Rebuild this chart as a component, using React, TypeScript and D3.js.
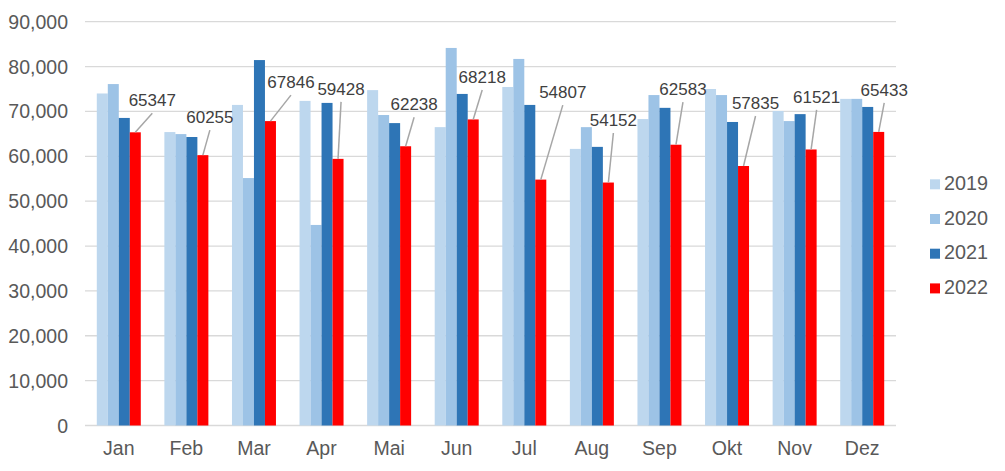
import React from "react";
import * as d3 from "d3";

const months = ["Jan", "Feb", "Mar", "Apr", "Mai", "Jun", "Jul", "Aug", "Sep", "Okt", "Nov", "Dez"];
const seriesNames = ["2019", "2020", "2021", "2022"];
const v2019 = [74000, 65400, 71450, 72350, 74750, 66500, 75450, 61650, 68300, 75000, 70100, 72800];
const v2020 = [76100, 64950, 55150, 44700, 69200, 84150, 81700, 66500, 73650, 73650, 67850, 72800];
const v2021 = [68550, 64300, 81450, 71900, 67400, 73900, 71450, 62100, 70800, 67650, 69400, 71000];
const v2022 = [65347, 60255, 67846, 59428, 62238, 68218, 54807, 54152, 62583, 57835, 61521, 65433];
const yTicks = [0, 10000, 20000, 30000, 40000, 50000, 60000, 70000, 80000, 90000];

// label placement (label centre relative to top of the 2022 bar), layout only
const labelOffsets: [number, number][] = [
  [17, -32], [7, -38], [20.5, -39], [3, -70], [8.5, -42], [9, -42.5],
  [22, -87.5], [5, -62.5], [7, -55.5], [12, -63], [5.5, -52.5], [5.5, -42],
];

const colors = ["#BDD7EE", "#9DC3E6", "#2E75B6", "#FF0000"];
const allSeries = [v2019, v2020, v2021, v2022];

export default function App() {
  const W = 1005, H = 471;
  const left = 85, right = 896, top = 21.7, bottom = 425.5;
  const x = d3.scaleBand<string>().domain(months).range([left, right]).paddingInner(0.349).paddingOuter(0.1745);
  const xs = d3.scaleBand<string>().domain(seriesNames).range([0, x.bandwidth()]).padding(0);
  const y = d3.scaleLinear().domain([0, 90000]).range([bottom, top]);
  const fmt = d3.format(",");
  const font = "'Liberation Sans', Arial, sans-serif";

  return (
    <div style={{ position: "absolute", left: 0, top: 0 }}>
      <svg width={W} height={H} style={{ display: "block", background: "#fff" }}>
        {yTicks.map((t) => (
          <g key={t}>
            <line x1={left} x2={right} y1={y(t)} y2={y(t)} stroke="#D9D9D9" strokeWidth={1.3} />
            <text x={68} y={y(t)} dy="0.36em" textAnchor="end" fontFamily={font} fontSize={19.5} fill="#595959">
              {fmt(t)}
            </text>
          </g>
        ))}
        {months.map((m, i) => (
          <g key={m}>
            {allSeries.map((s, j) => (
              <rect
                key={j}
                x={(x(m) as number) + (xs(seriesNames[j]) as number)}
                y={y(s[i])}
                width={xs.bandwidth()}
                height={bottom - y(s[i])}
                fill={colors[j]}
              />
            ))}
            <text x={(x(m) as number) + x.bandwidth() / 2} y={455} textAnchor="middle" fontFamily={font} fontSize={19.5} fill="#595959">
              {m}
            </text>
          </g>
        ))}
        {months.map((m, i) => {
          const bx = (x(m) as number) + (xs("2022") as number) + xs.bandwidth() / 2;
          const by = y(v2022[i]);
          const [dx, dy] = labelOffsets[i];
          const lx = bx + dx, ly = by + dy;
          return (
            <g key={"l" + m}>
              <line x1={bx} y1={by} x2={lx} y2={ly + 13} stroke="#A6A6A6" strokeWidth={1.5} />
              <text x={lx} y={ly} dy="0.36em" textAnchor="middle" fontFamily={font} fontSize={17} fill="#404040">
                {v2022[i]}
              </text>
            </g>
          );
        })}
        {seriesNames.map((n, j) => (
          <g key={n} transform={`translate(930, ${190 + j * 34.7})`}>
            <rect x={0} y={-10.7} width={10} height={10} fill={colors[j]} />
            <text x={14} y={0} fontFamily={font} fontSize={19.8} fill="#595959">
              {n}
            </text>
          </g>
        ))}
      </svg>
    </div>
  );
}
